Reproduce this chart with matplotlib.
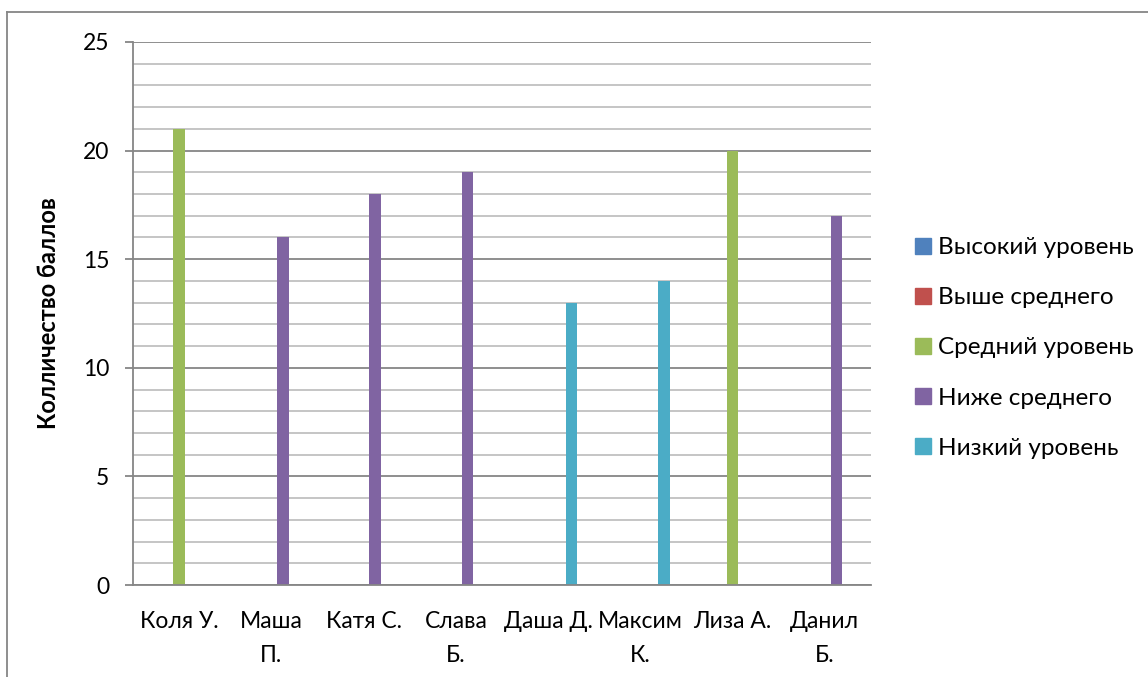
import matplotlib
matplotlib.use("Agg")
import matplotlib.pyplot as plt
import numpy as np
from matplotlib.lines import Line2D
from matplotlib.ticker import MultipleLocator

plt.rcParams['font.family'] = ['Lato', 'DejaVu Sans']

students = ["Коля У.", "Маша\nП.", "Катя С.", "Слава\nБ.", "Даша Д.",
            "Максим\nК.", "Лиза А.", "Данил\nБ."]
levels = ["Высокий уровень", "Выше среднего", "Средний уровень",
          "Ниже среднего", "Низкий уровень"]
colors = ["#4F81BD", "#C0504D", "#9BBB59", "#8064A2", "#4BACC6"]

high = [0, 0, 0, 0, 0, 0, 0, 0]
above = [0, 0, 0, 0, 0, 0, 0, 0]
middle = [21, 0, 0, 0, 0, 0, 20, 0]
below = [0, 16, 18, 19, 0, 0, 0, 17]
low = [0, 0, 0, 0, 13, 14, 0, 0]
series = [high, above, middle, below, low]

W, H = 1148, 677
fs = 16.5
fig = plt.figure(figsize=(W / 100, H / 100), dpi=100)
ax = fig.add_axes([133 / W, (H - 585) / H, (871 - 133) / W, (585 - 42) / H])

x = np.arange(len(students))
w = 0.127
for i, vals in enumerate(series):
    ax.bar(x + (i - 2) * w, vals, width=w, color=colors[i], label=levels[i],
           zorder=3)

ax.set_xlim(-0.5, len(students) - 0.5)
ax.set_ylim(0, 25)
ax.yaxis.set_major_locator(MultipleLocator(5))
ax.yaxis.set_minor_locator(MultipleLocator(1))
ax.grid(which='minor', axis='y', color='#C0C0C0', lw=1.3, zorder=1)
ax.grid(which='major', axis='y', color='#868686', lw=1.3, zorder=2)

for s in ['top', 'right']:
    ax.spines[s].set_visible(False)
for s in ['left', 'bottom']:
    ax.spines[s].set_color('#868686')
    ax.spines[s].set_linewidth(1.3)
    ax.spines[s].set_zorder(4)

ax.set_xticks(x)
ax.set_xticklabels(students, fontsize=fs, linespacing=1.75)
ax.tick_params(axis='x', length=0, pad=19)
ax.tick_params(axis='y', which='major', length=6, width=1.3, color='#868686',
               labelsize=fs, pad=11)
ax.tick_params(axis='y', which='minor', length=0)
ax.set_ylabel("Колличество баллов", fontsize=17, fontweight='bold')
ax.yaxis.set_label_coords((60 - 133) / 738, 0.5)

handles = [plt.Rectangle((0, 0), 1, 1, color=c) for c in colors]
fig.legend(handles, levels, loc='center left', bbox_to_anchor=(905 / W, (H - 348) / H),
           frameon=False, fontsize=17.5, handlelength=0.65, handleheight=0.65,
           handletextpad=0.3, labelspacing=1.2, borderaxespad=0)

# outer chart border (top and left edges visible)
fig.add_artist(Line2D([7 / W, 1], [(H - 12) / H] * 2, color='#868686', lw=1.3))
fig.add_artist(Line2D([7 / W] * 2, [0, (H - 12) / H], color='#868686', lw=1.3))

fig.savefig("out.png", dpi=100)
